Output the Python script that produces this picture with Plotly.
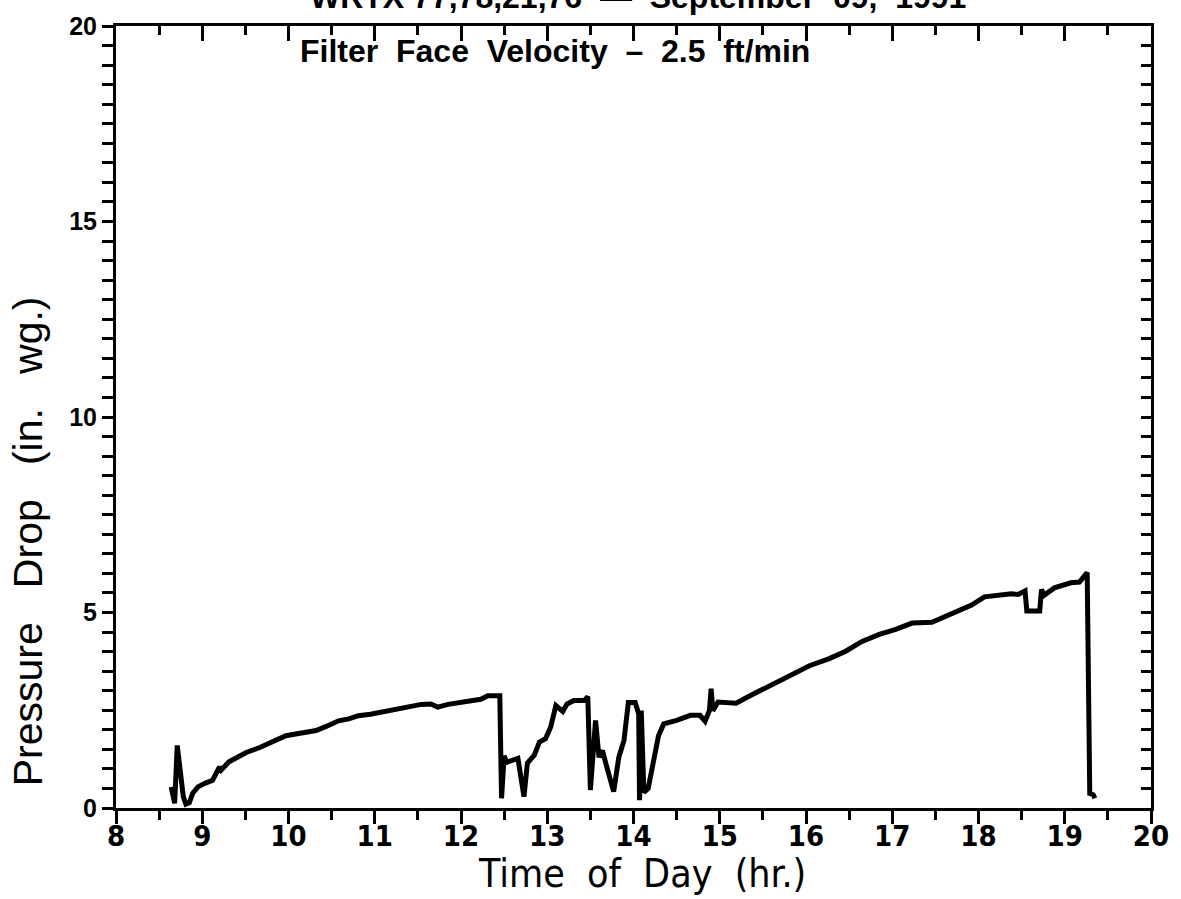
import plotly.graph_objects as go

# Time of day (hr) and filter pressure drop (in. wg.)
time_hr = [
    8.64, 8.68, 8.71, 8.73, 8.78, 8.81, 8.85, 8.89, 8.95, 9.03, 9.12, 9.20, 9.22,
    9.31, 9.40, 9.51, 9.66, 9.74, 9.85, 9.97, 10.10, 10.20, 10.32, 10.43, 10.58,
    10.70, 10.81, 10.95, 11.08, 11.20, 11.31, 11.42, 11.54, 11.65, 11.73, 11.85,
    11.97, 12.10, 12.23, 12.31, 12.45, 12.47, 12.50, 12.53, 12.60, 12.66, 12.73,
    12.77, 12.85, 12.91, 12.98, 13.04, 13.10, 13.18, 13.23, 13.31, 13.43, 13.47,
    13.50, 13.56, 13.60, 13.64, 13.69, 13.77, 13.83, 13.89, 13.94, 14.02, 14.06,
    14.07, 14.09, 14.12, 14.17, 14.23, 14.29, 14.35, 14.50, 14.66, 14.77, 14.83,
    14.88, 14.90, 14.92, 14.98, 15.19, 15.35, 15.58, 15.81, 16.04, 16.27, 16.46,
    16.65, 16.85, 17.04, 17.23, 17.46, 17.61, 17.81, 17.92, 18.07, 18.19, 18.38,
    18.46, 18.54, 18.56, 18.71, 18.73, 18.76, 18.88, 19.07, 19.17, 19.23, 19.26,
    19.29, 19.33, 19.35,
]
pressure_drop = [
    0.54, 0.12, 1.60, 1.20, 0.29, 0.10, 0.14, 0.38, 0.54, 0.63, 0.71, 1.05, 0.97,
    1.18, 1.28, 1.42, 1.54, 1.62, 1.73, 1.85, 1.90, 1.94, 1.98, 2.08, 2.23,
    2.28, 2.36, 2.40, 2.45, 2.52, 2.57, 2.61, 2.65, 2.66, 2.58, 2.65,
    2.70, 2.74, 2.78, 2.87, 2.87, 0.25, 1.33, 1.17, 1.22, 1.27, 0.29,
    1.15, 1.35, 1.69, 1.77, 2.07, 2.62, 2.47, 2.66, 2.75, 2.75, 2.85,
    0.46, 2.24, 1.30, 1.47, 1.05, 0.42, 1.30, 1.73, 2.70, 2.70, 2.41,
    0.20, 2.49, 0.40, 0.50, 1.14, 1.85, 2.15, 2.24, 2.37, 2.37, 2.22,
    2.49, 3.05, 2.49, 2.71, 2.68, 2.87, 3.13, 3.38, 3.64, 3.82, 4.01,
    4.26, 4.44, 4.57, 4.73, 4.75, 4.90, 5.07, 5.19, 5.40, 5.44, 5.48,
    5.46, 5.55, 5.04, 5.04, 5.59, 5.44, 5.63, 5.76, 5.78, 5.97, 6.02,
    0.37, 0.34, 0.25,
]

SP = " &nbsp;"
title_text = "WRTX 77,78,21,76" + SP + "\u2014" + SP + "September" + SP + "09," + SP + "1991"
note_text = SP.join(["Filter", "Face", "Velocity", "\u2013", "2.5", "ft/min"])
x_title = SP.join(["Time", "of", "Day", "(hr.)"])
y_title = (" &nbsp;&nbsp;").join(["Pressure", "Drop", "(in.", "wg.)"])

W, H = 1181, 899
L, R, T, B = 116, 24, 22, 91
NARROW = "DejaVu Sans Condensed, Liberation Sans Narrow, Liberation Sans, sans-serif"

fig = go.Figure()
fig.add_trace(go.Scatter(
    x=time_hr, y=pressure_drop, mode="lines",
    line=dict(color="black", width=5),
    hoverinfo="skip", showlegend=False,
))
# empty trace so the top/right frame axes are drawn
fig.add_trace(go.Scatter(x=[], y=[], xaxis="x2", yaxis="y2", showlegend=False))

axis_common = dict(showgrid=False, zeroline=False, showline=True,
                   linecolor="black", linewidth=3, tickcolor="black", tickwidth=3)

fig.update_layout(
    width=W, height=H,
    margin=dict(l=L, r=R, t=T, b=B),
    paper_bgcolor="white", plot_bgcolor="white",
    xaxis=dict(range=[8, 20], dtick=1, tick0=8, ticks="outside", ticklen=13,
               ticklabelstandoff=-13,
               minor=dict(dtick=0.5, tick0=8, ticks="outside", ticklen=9,
                          tickwidth=3, tickcolor="black"),
               tickfont=dict(family=NARROW, size=29, color="black", weight="bold"),
               **axis_common),
    xaxis2=dict(range=[8, 20], overlaying="x", side="top", dtick=1, tick0=8,
                ticks="inside", ticklen=15, showticklabels=False,
                minor=dict(dtick=0.5, tick0=8, ticks="inside", ticklen=9,
                           tickwidth=3, tickcolor="black"),
                **axis_common),
    yaxis=dict(range=[0, 20], dtick=5, tick0=0, ticks="outside", ticklen=11,
               minor=dict(dtick=0.5, tick0=0, ticks="outside", ticklen=11,
                          tickwidth=3, tickcolor="black"),
               tickfont=dict(family="Liberation Sans", size=25, color="black",
                             weight="bold"),
               **axis_common),
    yaxis2=dict(range=[0, 20], overlaying="y", side="right", dtick=0.5,
                ticks="inside", ticklen=10, showticklabels=False,
                **axis_common),
    annotations=[
        dict(text=title_text, xref="paper", yref="paper", x=0.504, y=1.012,
             xanchor="center", yanchor="bottom", showarrow=False,
             font=dict(family="Liberation Sans", size=32, color="black", weight="bold")),
        dict(text=note_text, xref="x", yref="y", x=10.11, y=19.35,
             xanchor="left", yanchor="middle", showarrow=False,
             font=dict(family="Liberation Sans", size=32, color="black", weight="bold")),
        dict(text=x_title, xref="paper", yref="paper", x=0.508, y=-0.084,
             xanchor="center", yanchor="middle", showarrow=False,
             font=dict(family=NARROW, size=39, color="black")),
        dict(text=y_title, xref="paper", yref="paper", x=-0.085, y=0.341,
             xanchor="center", yanchor="middle", textangle=-90, showarrow=False,
             font=dict(family="Liberation Sans", size=41, color="black")),
    ],
)

fig.write_html("out.html")
